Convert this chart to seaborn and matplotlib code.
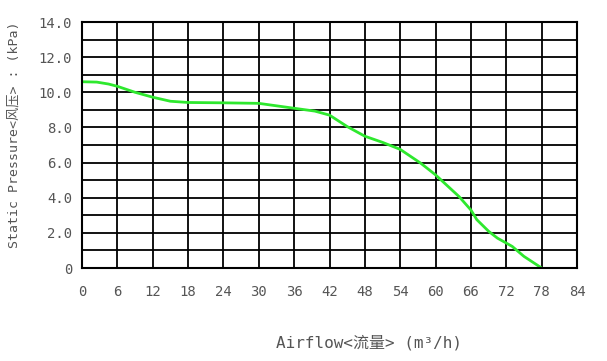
import matplotlib
matplotlib.use("Agg")
import matplotlib.pyplot as plt
import seaborn as sns
import pandas as pd

airflow = [0, 2.5, 4.5, 6, 9, 12, 15, 18, 24, 30, 33, 36, 39.5, 42, 45, 48, 51, 54,
           57.5, 60, 64, 66, 67, 69, 70.5, 73, 75, 78]
pressure = [10.6, 10.58, 10.47, 10.34, 10.0, 9.72, 9.49, 9.42, 9.40, 9.37, 9.23, 9.09,
            8.93, 8.7, 8.05, 7.5, 7.15, 6.75, 5.96, 5.3, 4.06, 3.3, 2.75, 2.09, 1.7,
            1.23, 0.66, 0]
x_ticks = list(range(0, 85, 6))
y_ticks = list(range(0, 15))
y_labels = ["0" if v == 0 else (f"{v:.1f}" if v % 2 == 0 else "") for v in y_ticks]

sns.set_theme(style="white")
plt.rcParams['font.family'] = ['DejaVu Sans Mono', 'Noto Sans CJK SC', 'DejaVu Sans']

df = pd.DataFrame({"airflow": airflow, "pressure": pressure})

fig = plt.figure(figsize=(6.07, 3.61), dpi=100)
ax = fig.add_axes([82/607, 1 - 268/361, 495/607, 246/361])
sns.lineplot(data=df, x="airflow", y="pressure", ax=ax, color="#2ee82e", linewidth=2.0)

ax.set_xlim(0, 84)
ax.set_ylim(0, 14)
ax.set_xticks(x_ticks)
ax.set_yticks(y_ticks)
ax.set_yticklabels(y_labels)
ax.grid(True, color="black", linewidth=1.3)
for s in ax.spines.values():
    s.set_color("black")
    s.set_linewidth(1.5)
ax.tick_params(axis="both", length=0, labelsize=10, colors="#555555")
ax.tick_params(axis="x", pad=12)
ax.tick_params(axis="y", pad=7)

ax.set_xlabel("Airflow<流量> (m³/h)", fontsize=11.5, color="#555555")
ax.set_ylabel("Static Pressure<风压> : (kPa)", fontsize=9.5, color="#555555")
ax.xaxis.set_label_coords(0.58, -0.27)
ax.yaxis.set_label_coords(-0.125, 0.54)

fig.savefig("out.png", dpi=100, facecolor="white")
